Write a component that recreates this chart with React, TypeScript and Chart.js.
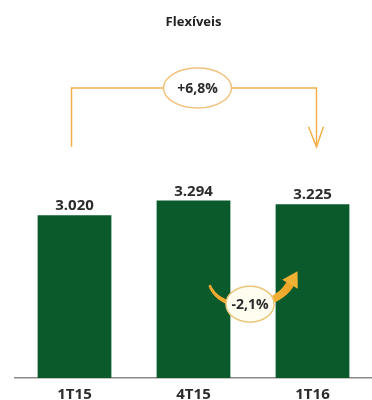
import React, { useEffect, useRef } from "react";
import { Chart, registerables } from "chart.js";

Chart.register(...registerables);

const title = "Flexíveis";
const categories = ["1T15", "4T15", "1T16"];
const values = [3020, 3294, 3225];
const variationYear = "+6,8%";
const variationQuarter = "-2,1%";

const FONT = "'Open Sans', 'DejaVu Sans', sans-serif";
const BAR_COLOR = "#0b5a2c";
const TEXT_COLOR = "#2b2b2b";
const LINE_ORANGE = "#f2b04a";

function fmt(v: number): string {
  const s = String(Math.round(v));
  return s.replace(/\B(?=(\d{3})+(?!\d))/g, ".");
}

const annotationPlugin = {
  id: "annotations",
  afterDatasetsDraw(chart: any) {
    const ctx: CanvasRenderingContext2D = chart.ctx;
    const meta = chart.getDatasetMeta(0);
    const yScale = chart.scales.y;
    const bars = meta.data;

    // value labels
    ctx.save();
    ctx.font = `bold 15px ${FONT}`;
    ctx.fillStyle = TEXT_COLOR;
    ctx.textAlign = "center";
    ctx.textBaseline = "middle";
    bars.forEach((b: any, i: number) => {
      ctx.fillText(fmt(values[i]), b.x, b.y - 9);
    });
    ctx.restore();

    // bracket 1T15 -> 1T16
    const xL = bars[0].x - 3;
    const xR = bars[2].x + 4;
    const yTop = yScale.getPixelForValue(5380);
    const yBot = yScale.getPixelForValue(4290);
    ctx.save();
    ctx.strokeStyle = LINE_ORANGE;
    ctx.lineWidth = 1.5;
    ctx.beginPath();
    ctx.moveTo(xL, yBot);
    ctx.lineTo(xL, yTop);
    ctx.lineTo(xR, yTop);
    ctx.lineTo(xR, yBot);
    ctx.stroke();
    ctx.beginPath();
    ctx.moveTo(xR - 8, yBot - 20);
    ctx.lineTo(xR, yBot);
    ctx.lineTo(xR + 7, yBot - 20);
    ctx.stroke();

    const ex1 = bars[1].x + 4;
    ctx.beginPath();
    ctx.ellipse(ex1, yTop, 34, 20, 0, 0, Math.PI * 2);
    ctx.fillStyle = "#ffffff";
    ctx.fill();
    ctx.strokeStyle = "#f0c27c";
    ctx.stroke();
    ctx.font = `bold 14px ${FONT}`;
    ctx.fillStyle = TEXT_COLOR;
    ctx.textAlign = "center";
    ctx.textBaseline = "middle";
    ctx.fillText(variationYear, ex1, yTop + 1);
    ctx.restore();

    // quarter variation curved arrow
    const ex = (bars[1].x + bars[2].x) / 2 - 3;
    const ey = yScale.getPixelForValue(1370);
    const P0 = [ex - 40, ey - 18];
    const P1 = [ex - 28, ey + 10];
    const P2 = [ex + 25, ey + 6];
    const P3 = [ex + 40, ey - 20];
    const grad = ctx.createLinearGradient(ex - 40, ey + 10, ex + 50, ey - 35);
    grad.addColorStop(0, "#f0a22a");
    grad.addColorStop(0.5, "#f6bb3c");
    grad.addColorStop(1, "#e99a20");
    ctx.save();
    ctx.strokeStyle = grad;
    ctx.fillStyle = grad;
    ctx.lineCap = "round";
    const N = 40;
    let prev = P0;
    for (let i = 1; i <= N; i++) {
      const t = i / N;
      const mt = 1 - t;
      const x =
        mt * mt * mt * P0[0] + 3 * mt * mt * t * P1[0] + 3 * mt * t * t * P2[0] + t * t * t * P3[0];
      const y =
        mt * mt * mt * P0[1] + 3 * mt * mt * t * P1[1] + 3 * mt * t * t * P2[1] + t * t * t * P3[1];
      ctx.lineWidth = 2.5 + 5.5 * t;
      ctx.beginPath();
      ctx.moveTo(prev[0], prev[1]);
      ctx.lineTo(x, y);
      ctx.stroke();
      prev = [x, y];
    }
    // arrowhead
    const dx = P3[0] - P2[0];
    const dy = P3[1] - P2[1];
    const len = Math.hypot(dx, dy);
    const ux = dx / len;
    const uy = dy / len;
    const px = -uy;
    const py = ux;
    ctx.beginPath();
    ctx.moveTo(P3[0] + ux * 15, P3[1] + uy * 15);
    ctx.lineTo(P3[0] + px * 9, P3[1] + py * 9);
    ctx.lineTo(P3[0] - px * 9, P3[1] - py * 9);
    ctx.closePath();
    ctx.fillStyle = "#f3b133";
    ctx.fill();

    ctx.beginPath();
    ctx.ellipse(ex, ey, 24, 18, 0, 0, Math.PI * 2);
    ctx.fillStyle = "#fffdf0";
    ctx.fill();
    ctx.lineWidth = 1.5;
    ctx.strokeStyle = "#ebc77c";
    ctx.stroke();
    ctx.font = `bold 14px ${FONT}`;
    ctx.fillStyle = TEXT_COLOR;
    ctx.textAlign = "center";
    ctx.textBaseline = "middle";
    ctx.fillText(variationQuarter, ex, ey + 1);
    ctx.restore();
  },
};

export default function App() {
  const canvasRef = useRef<HTMLCanvasElement | null>(null);

  useEffect(() => {
    if (!canvasRef.current) return;
    const chart = new Chart(canvasRef.current, {
      type: "bar",
      data: {
        labels: categories,
        datasets: [
          {
            data: values,
            backgroundColor: BAR_COLOR,
            borderWidth: 0,
            barPercentage: 0.62,
            categoryPercentage: 1,
          },
        ],
      },
      options: {
        responsive: false,
        animation: false,
        layout: { padding: { left: 15, right: 0, top: 0, bottom: -11 } },
        plugins: {
          legend: { display: false },
          tooltip: { enabled: false },
          title: {
            display: true,
            text: title,
            fullSize: false,
            color: "#222",
            font: { family: FONT, size: 13, weight: "bold" },
            padding: { top: 14, bottom: 25 },
          },
        },
        scales: {
          x: {
            grid: { display: false, drawTicks: false },
            border: { display: true, color: "#8a8a8a", width: 1.5 },
            ticks: {
              color: TEXT_COLOR,
              font: { family: FONT, size: 15, weight: "bold", lineHeight: 1 },
              padding: 9,
              maxRotation: 0,
            },
          },
          y: {
            display: false,
            min: 0,
            max: 6000,
          },
        },
      },
      plugins: [annotationPlugin],
    } as any);
    return () => chart.destroy();
  }, []);

  return (
    <div style={{ position: "fixed", left: 0, top: 0, width: 372, height: 400, background: "#fff" }}>
      <canvas ref={canvasRef} width={372} height={400} style={{ display: "block" }} />
    </div>
  );
}
